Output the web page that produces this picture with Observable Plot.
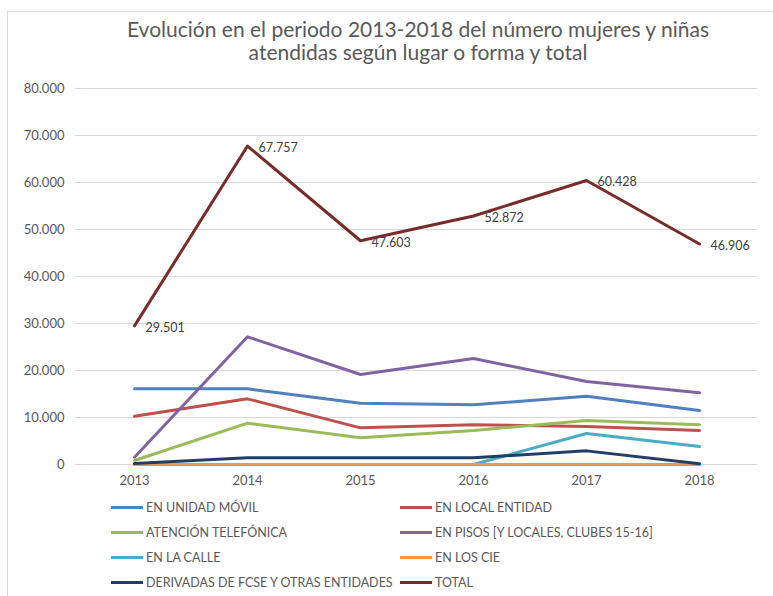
<!DOCTYPE html>
<html>
<head>
<meta charset="utf-8">
<script src="https://cdn.jsdelivr.net/npm/d3@7"></script>
<script src="https://cdn.jsdelivr.net/npm/@observablehq/plot@0.6"></script>
<style>
  html, body { margin: 0; padding: 0; background: #fff; overflow: hidden; }
  #page { position: relative; width: 773px; height: 596px; font-family: Lato, "Open Sans", sans-serif; color: #595959; }
  #frame { position: absolute; left: 7px; top: 11px; width: 800px; height: 700px; border: 1px solid #D9D9D9; box-sizing: border-box; }
  #title { position: absolute; left: 7px; width: 822px; top: 17px; text-align: center; font-size: 21px; line-height: 23px; color: #595959; }
  #chart { position: absolute; left: 0; top: 70px; }
  .leg { position: absolute; font-size: 12.5px; color: #595959; white-space: nowrap; height: 14px; line-height: 14px; }
  .sw { display: inline-block; width: 32px; height: 3px; vertical-align: middle; margin-right: 3px; position: relative; top: -1px; }
</style>
</head>
<body>
<div id="page">
  <div id="frame"></div>
  <div id="title">Evolución en el periodo 2013-2018 del número mujeres y niñas<br>atendidas según lugar o forma y total</div>
  <div id="chart"></div>
  <div id="legend"></div>
</div>
<script>
const years = ["2013", "2014", "2015", "2016", "2017", "2018"];
const seriesNames = [
  "EN UNIDAD MÓVIL",
  "EN LOCAL ENTIDAD",
  "ATENCIÓN TELEFÓNICA",
  "EN PISOS [Y LOCALES, CLUBES 15-16]",
  "EN LA CALLE",
  "EN LOS CIE",
  "DERIVADAS DE FCSE Y OTRAS ENTIDADES",
  "TOTAL"
];
const seriesColors = ["#4F81BD", "#C0504D", "#9BBB59", "#8064A2", "#4BACC6", "#F79646", "#1F3F66", "#772C2A"];
const unidadMovil   = [16100, 16100, 13050, 12700, 14540, 11490];
const localEntidad  = [10280, 13970, 7800, 8440, 8090, 7230];
const telefonica    = [850, 8790, 5670, 7230, 9360, 8440];
const pisos         = [1560, 27160, 19150, 22550, 17660, 15250];
const calle         = [0, 0, 0, 0, 6600, 3830];
const cie           = [0, 0, 0, 0, 0, 0];
const derivadas     = [200, 1420, 1420, 1420, 2900, 140];
const total         = [29501, 67757, 47603, 52872, 60428, 46906];
const yTicks = [0, 10000, 20000, 30000, 40000, 50000, 60000, 70000, 80000];

const seriesValues = [unidadMovil, localEntidad, telefonica, pisos, calle, cie, derivadas, total];
const rows = [];
seriesNames.forEach((name, i) => {
  years.forEach((yr, j) => rows.push({ series: name, year: yr, value: seriesValues[i][j] }));
});
const totalRows = rows.filter(d => d.series === "TOTAL");

const loc = d3.formatLocale({ decimal: ",", thousands: ".", grouping: [3], currency: ["", "€"] });
const fmt = loc.format(",");

const chart = Plot.plot({
  width: 773,
  height: 430,
  marginLeft: 75,
  marginRight: 16,
  marginTop: 18,
  marginBottom: 36,
  style: { fontFamily: "Lato, 'Open Sans', sans-serif", fontSize: "13px", color: "#595959", background: "transparent", overflow: "visible" },
  x: { type: "point", domain: years, padding: 0.5 },
  y: { domain: [0, 80000] },
  color: { domain: seriesNames, range: seriesColors },
  marks: [
    Plot.ruleY(yTicks, { stroke: "#D9D9D9", strokeWidth: 1 }),
    Plot.axisY(yTicks, { tickSize: 0, tickPadding: 11, tickFormat: fmt, label: null, fontSize: 13 }),
    Plot.axisX({ tickSize: 0, tickPadding: 11, label: null, fontSize: 13 }),
    Plot.line(rows, { x: "year", y: "value", z: "series", stroke: "series", strokeWidth: 3, strokeLinejoin: "round", strokeLinecap: "round" }),
    Plot.text(totalRows, { x: "year", y: "value", text: d => fmt(d.value), dx: 11, dy: 2, textAnchor: "start", fill: "#404040", fontSize: 12.5 })
  ]
});
document.getElementById("chart").appendChild(chart);

// legend
const legend = document.getElementById("legend");
const colX = [111, 400];
const rowY = [501, 526, 551, 576];
seriesNames.forEach((name, i) => {
  const el = document.createElement("div");
  el.className = "leg";
  el.style.left = colX[i % 2] + "px";
  el.style.top = rowY[Math.floor(i / 2)] + "px";
  const sw = document.createElement("span");
  sw.className = "sw";
  sw.style.background = seriesColors[i];
  el.appendChild(sw);
  el.appendChild(document.createTextNode(name));
  legend.appendChild(el);
});
</script>
</body>
</html>
